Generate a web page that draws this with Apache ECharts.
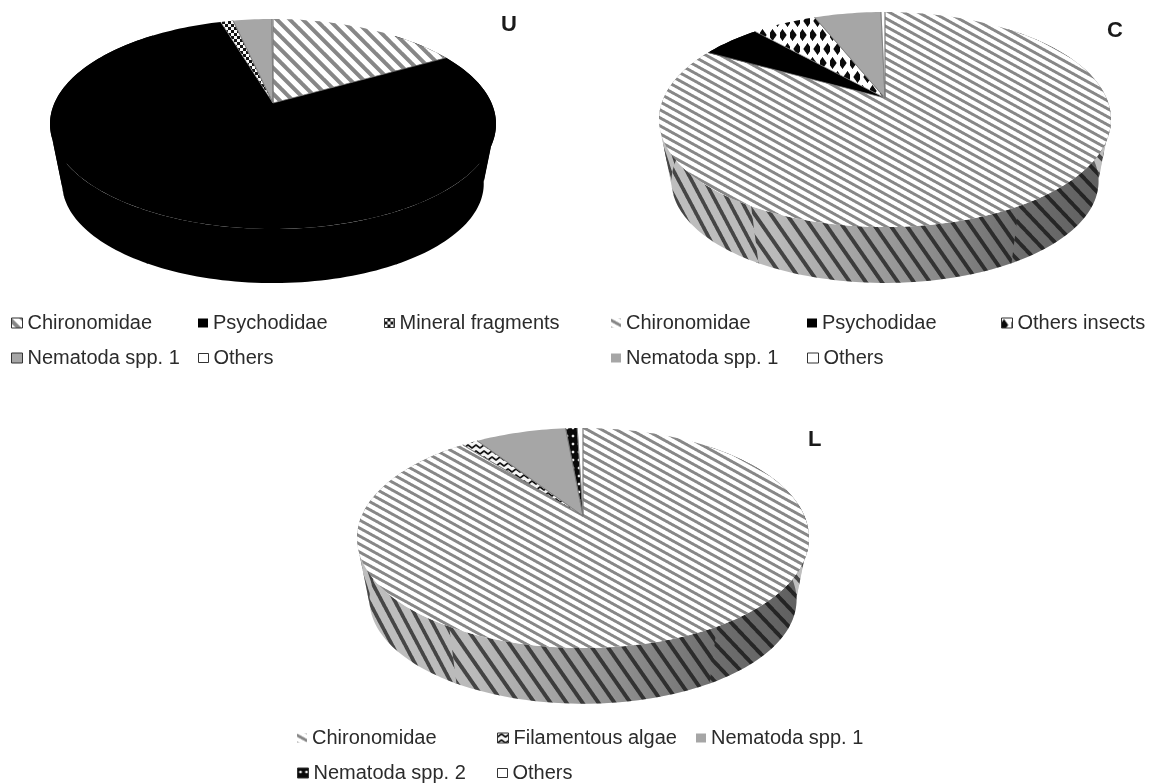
<!DOCTYPE html>
<html><head><meta charset="utf-8">
<style>html,body{margin:0;padding:0;background:#fff}#c{width:1153px;height:783px}</style>
<script src="https://cdn.jsdelivr.net/npm/echarts@6/dist/echarts.min.js"></script>
</head><body><div id="c"></div>
<script>
// ---- data (percent of diet) ----
const namesU = ['Chironomidae','Psychodidae','Mineral fragments','Nematoda spp. 1','Others'];
const valuesU = [16.8, 78.6, 1.1, 3.4, 0.1];
const namesC = ['Chironomidae','Psychodidae','Others insects','Nematoda spp. 1','Others'];
const valuesC = [83.0, 5.25, 5.6, 5.8, 0.35];
const namesL = ['Chironomidae','Filamentous algae','Nematoda spp. 1','Nematoda spp. 2','Others'];
const valuesL = [89.2, 1.4, 7.9, 1.0, 0.5];

// ---- patterns ----
function tile(W,H,fn){
  const c=document.createElement('canvas');c.width=W;c.height=H;
  const g=c.getContext('2d'),im=g.createImageData(W,H),S=3;
  for(let y=0;y<H;y++)for(let x=0;x<W;x++){
    let r=0;
    for(let i=0;i<S;i++)for(let j=0;j<S;j++)r+=fn((x+(i+.5)/S),(y+(j+.5)/S));
    r/=S*S;const k=(y*W+x)*4;
    im.data[k]=im.data[k+1]=im.data[k+2]=r;im.data[k+3]=255;
  }
  g.putImageData(im,0,0);return {image:c,repeat:'repeat'};
}
const stripes=(W,H,n,fg,bg,duty)=>tile(W,H,(x,y)=>{
  let p=(y/H-x/W)*n;p-=Math.floor(p);return p<duty?fg:bg;});
const P={
  stripe45:stripes(26,26,2,135,255,.42),
  stripe30:stripes(29,16,2,135,255,.42),
  w1:stripes(24,51,2,70,190,.32),
  w2:stripes(36,38,2,70,190,.3),
  w3:stripes(32,46,2,70,190,.3),
  w4:stripes(26,49,2,70,190,.32),
  w5:stripes(16,49,2,70,190,.38),
  diamonds:tile(10,28,(x,y)=>{
    const d=(a,b)=>Math.abs(x-a)/4.2+Math.abs(y-b)/6;
    return Math.min(d(2.5,7),d(7.5,21))<1?10:255;}),
  speck:tile(6,6,(x,y)=>((x<3)!==(y<3))?20:250),
  zig:tile(8,6,(x,y)=>{const t=Math.abs((x%8)-4)/4*3;return Math.abs(y-t-1)<1.1?20:245;}),
  dots:tile(6,8,(x,y)=>Math.hypot(x-3,y-4)<1.3?235:10)
};
const fills={'Chironomidae':null,'Psychodidae':'#000','Mineral fragments':P.speck,'Others insects':P.diamonds,
  'Nematoda spp. 1':'#a6a6a6','Nematoda spp. 2':P.dots,'Filamentous algae':P.zig,'Others':'#fff'};

// ---- pies ----
const pies=[
 {names:namesU,values:valuesU,cx:273,ay:103,top:84,R:218.5,h:61,chir:P.stripe45,wallBlack:true,
  title:'U',tx:501,ty:14,
  legend:[[11,323,0],[198,323,1],[384,323,2],[11,358,3],[198,358,4]],iconW:[11,10,10,11,10],noBox:[]},
 {names:namesC,values:valuesC,cx:885,ay:98,top:86,R:221.4,h:63,chir:P.stripe30,
  title:'C',tx:1107,ty:20,
  legend:[[611,323,0],[807,323,1],[1001,323,2],[611,358,3],[807,358,4]],iconW:[10,10,11,10,11],noBox:[0,3]},
 {names:namesL,values:valuesL,cx:583,ay:516,top:88,R:221.4,h:63,chir:P.stripe30,
  title:'L',tx:808,ty:429,
  legend:[[297,738,0],[497,738,1],[696,738,2],[297,773,3],[497,773,4]],iconW:[10,11,10,11,10],noBox:[0,2]}
];
const E=.2;
function rim(p,deg,scale,dy){
  const a=deg*Math.PI/180,u=Math.sin(a),v=-Math.cos(a),w=1-E*v;
  const B=p.top*(1+E);
  return [p.cx+scale*p.R*u/w, p.ay+dy+scale*B*v/w];
}
function arc(p,a,b,scale,dy){
  const out=[];const n=Math.max(2,Math.ceil(Math.abs(b-a)/1.5));
  for(let i=0;i<=n;i++)out.push(rim(p,a+(b-a)*i/n,scale,dy));
  return out;
}
const WS=.945; // lower rim is a little smaller
const bands=[[40,100,'w1'],[100,150,'w2'],[150,210,'w3'],[210,250,'w4'],[250,320,'w5']];
function sliceRender(p,i){
  return function(params,api){
    const a=api.value(0),b=api.value(1),children=[];
    const base=fills[p.names[i]];
    const fill=i===0?p.chir:base;
    bands.forEach(([s,e,k])=>{
      const l=Math.max(a,s),r=Math.min(b,e+.6);
      if(r<=l)return;
      const poly=arc(p,l,r,1,0).concat(arc(p,r,l,WS,p.h));
      const wf=p.wallBlack?'#000':i===0?P[k]:base;
      children.push({type:'polygon',z2:1,shape:{points:poly},style:{fill:wf,stroke:null}});
    });
    const L=Math.max(a,40),Rr=Math.min(b,320);
    if(!p.wallBlack&&Rr>L){
      const whole=arc(p,L,Rr,1,0).concat(arc(p,Rr,L,WS,p.h));
      children.push({type:'polygon',z2:2,shape:{points:whole},
        style:{fill:{type:'linear',x:p.cx-p.R,y:0,x2:p.cx+p.R,y2:0,global:true,colorStops:[
          {offset:0,color:'rgba(0,0,0,0)'},
          {offset:.25,color:'rgba(0,0,0,0.02)'},
          {offset:.55,color:'rgba(0,0,0,0.22)'},
          {offset:.8,color:'rgba(0,0,0,0.42)'},
          {offset:1,color:'rgba(0,0,0,0.5)'}]},stroke:null}});
    }
    // top face (no outline along the rim, thin line along the radii)
    const ring=arc(p,a,b,1,0);
    children.push({type:'polygon',z2:10,shape:{points:[[p.cx,p.ay]].concat(ring)},
      style:{fill:fill,stroke:null}});
    if(base!=='#000')children.push({type:'polyline',z2:11,
      shape:{points:[ring[0],[p.cx,p.ay],ring[ring.length-1]]},
      style:{stroke:'#7a7a7a',lineWidth:.7,fill:null}});
    return {type:'group',children};
  };
}
const series=[],legends=[],titles=[];
pies.forEach(p=>{
  const tot=p.values.reduce((s,v)=>s+v,0);let acc=0;
  p.values.forEach((v,i)=>{
    const a=acc/tot*360;acc+=v;const b=acc/tot*360;
    series.push({type:'custom',name:p.names[i],coordinateSystem:'none',silent:true,
      renderItem:sliceRender(p,i),data:[[a,b]],animation:false,clip:false});
  });
  p.legend.forEach(([x,y,i])=>{
    const n=p.names[i];
    const col=i===0?p.chir:fills[n];
    const box=!p.noBox.includes(i);
    legends.push({left:x,top:y-10,orient:'horizontal',selectedMode:false,padding:0,
      itemWidth:p.iconW[i],itemHeight:p.iconW[i]-1,itemGap:0,icon:'rect',
      textStyle:{fontFamily:'Liberation Sans',fontSize:20,color:'#2b2b2b'},
      data:[{name:n,icon:'rect',itemStyle:{color:col,borderColor:'#333',borderWidth:box&&col!=='#000'?1:0,decal:'none'}}]});
  });
  titles.push({text:p.title,left:p.tx,top:p.ty,padding:0,
    textStyle:{fontFamily:'Liberation Sans',fontSize:22,fontWeight:'bold',color:'#1a1a1a'}});
});
const chart=echarts.init(document.getElementById('c'),null,{renderer:'canvas'});
chart.setOption({animation:false,backgroundColor:'#fff',tooltip:{show:false},title:titles,legend:legends,series});
</script></body></html>
